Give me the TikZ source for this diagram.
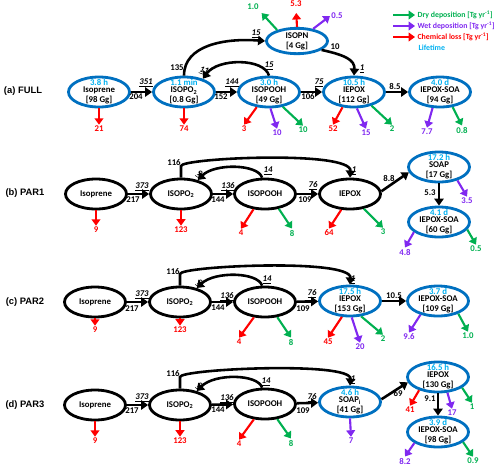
\documentclass[tikz,border=0pt]{standalone}
\usepackage{fontspec}
\setmainfont{Carlito}
\newfontfamily\panelfont{Liberation Sans}
\usetikzlibrary{arrows.meta,shapes.geometric}
\definecolor{eblue}{RGB}{0,112,192}
\definecolor{lblue}{RGB}{0,176,240}
\definecolor{dgreen}{RGB}{0,176,80}
\definecolor{wpurple}{RGB}{128,40,240}
\definecolor{cred}{RGB}{255,0,0}
\newcommand{\lifet}[1]{\textcolor{lblue}{#1}\\[-2.5pt]}
\newcommand{\flo}[1]{\underline{\textit{#1}}}

\begin{document}
\begin{tikzpicture}[
  x=0.03cm,y=-0.03cm,
  >={Triangle[length=6pt,width=8pt]},
  every node/.style={font=\fontsize{7.5}{8.5}\selectfont\bfseries},
  s/.style={ellipse,draw,line width=2.4pt,minimum width=1.83cm,minimum height=0.9cm,inner xsep=0pt,inner ysep=-4pt,align=center},
  sb/.style={s,draw=eblue},
  arc/.style={->,line width=2.2pt},
  dep/.style={-{Triangle[length=5.5pt,width=7.5pt]},line width=1.8pt},
  num/.style={inner sep=1pt},
  lab/.style={font=\panelfont\fontsize{8}{9}\selectfont\bfseries},
  lg/.style={anchor=west,inner sep=2pt,font=\fontsize{6.7}{8}\selectfont\bfseries}
]
\useasboundingbox (0,0) rectangle (500,468);

% legend
\coordinate (lg1) at (393,15);
\coordinate (lg2) at (393,26);
\coordinate (lg3) at (393,37);
\node[lg,dgreen] (lgdry) at (415,15) {Dry deposition [Tg yr\textsuperscript{-1}]};
\node[lg,wpurple] (lgwet) at (415,26) {Wet deposition [Tg yr\textsuperscript{-1}]};
\node[lg,cred] (lgchem) at (415,37) {Chemical loss [Tg yr\textsuperscript{-1}]};
\node[lg,lblue] (lglife) at (416,48) {Lifetime};
\draw[dep,dgreen] (lg1) -- (lgdry.west);
\draw[dep,wpurple] (lg2) -- (lgwet.west);
\draw[dep,cred] (lg3) -- (lgchem.west);

% (a) FULL
\node[lab] (pa) at (23,91) {(a) FULL};
\node[sb] (isoa) at (99,92) {\lifet{3.8 h}Isoprene\\{}[98 Gg]};
\node[sb] (po2a) at (184,92) {\lifet{1.1 min}ISOPO\textsubscript{2}\\{}[0.8 Gg]};
\node[sb] (pooha) at (269,92) {\lifet{3.0 h}ISOPOOH\\{}[49 Gg]};
\node[sb] (iepa) at (354,92) {\lifet{10.5 h}IEPOX\\{}[112 Gg]};
\node[sb] (soaa) at (440,92) {\lifet{4.0 d}IEPOX-SOA\\{}[94 Gg]};
\node[sb,minimum height=0.76cm] (isopn) at (297,41) {ISOPN\\{}[4 Gg]};
\draw[arc] (isoa) -- (po2a);
\draw[arc] (po2a) -- (pooha);
\draw[arc] (pooha) -- (iepa);
\draw[arc] (iepa) -- (soaa);
\draw[arc] (po2a.north) .. controls (184,45) and (225,38) .. (isopn.west);
\draw[arc] (pooha.north) .. controls (264,58) and (218,58) .. (po2a.35);
\draw[arc] (isopn.-20) .. controls (345,55) and (355,60) .. (iepa.north);
\node[num] (fa1) at (146,83) {\flo{351}};
\node[num] (fa2) at (136,97) {204};
\node[num] (fa3) at (232,83) {\flo{144}};
\node[num] (fa4) at (221,97) {152};
\node[num] (fa5) at (319,83) {\flo{75}};
\node[num] (fa6) at (308,97) {106};
\node[num] (fa7) at (395,86) {8.5};
\node[num] (fa8) at (177,68) {135};
\node[num] (fa9) at (256,34) {\flo{15}};
\node[num] (fa10) at (269,66) {\flo{15}};
\node[num,rotate=-20] (fa11) at (204,71) {\flo{11}};
\node[num] (fa12) at (335,47) {10};
\node[num] (fa13) at (362,69) {\flo{1}};
% losses (a)
\node[num,cred] (da1) at (99,129) {21};
\node[num,cred] (da2) at (184,129) {74};
\node[num,cred] (da3) at (244,129) {3};
\node[num,wpurple] (da4) at (277,133) {10};
\node[num,dgreen] (da5) at (303,130) {10};
\node[num,cred] (da6) at (333,129) {52};
\node[num,wpurple] (da7) at (366,133) {15};
\node[num,dgreen] (da8) at (392,129) {2};
\node[num,wpurple] (da9) at (427,132) {7.7};
\node[num,dgreen] (da10) at (462,130) {0.8};
\node[num,dgreen] (da11) at (253,7) {1.0};
\node[num,cred] (da12) at (296,4) {5.3};
\node[num,wpurple] (da13) at (337,16) {0.5};
\draw[dep,cred] (isoa.-90) -- (da1.north);
\draw[dep,cred] (po2a.-90) -- (da2.north);
\draw[dep,cred] (pooha.-129) -- (da3.north);
\draw[dep,wpurple] (pooha.-85) -- (da4.north);
\draw[dep,dgreen] (pooha.-47) -- (da5.north);
\draw[dep,cred] (iepa.-127) -- (da6.north);
\draw[dep,wpurple] (iepa.-80) -- (da7.north);
\draw[dep,dgreen] (iepa.-38) -- (da8.north);
\draw[dep,wpurple] (soaa.-115) -- (da9.north);
\draw[dep,dgreen] (soaa.-50) -- (da10.north);
\draw[dep,dgreen,shorten >=2pt] (isopn.151) -- (da11.south east);
\draw[dep,cred,shorten >=4pt] (isopn.90) -- (da12.south);
\draw[dep,wpurple] (isopn.37) -- (da13.west);

% (b) PAR1
\node[lab] (pb) at (25,193) {(b) PAR1};
\node[s] (isob) at (96,194) {Isoprene};
\node[s] (po2b) at (181,194) {ISOPO\textsubscript{2}};
\node[s] (poohb) at (265,194) {ISOPOOH};
\node[s] (iepb) at (350,194) {IEPOX};
\node[sb] (soapb) at (439,167) {\lifet{17.2 h}SOAP\\{}[17 Gg]};
\node[sb] (soab) at (439,222) {\lifet{4.1 d}IEPOX-SOA\\{}[60 Gg]};
\draw[arc] (isob) -- (po2b);
\draw[arc] (po2b) -- (poohb);
\draw[arc] (poohb) -- (iepb);
\draw[arc] (iepb.5) -- (soapb.-170);
\draw[arc] (soapb) -- (soab);
\draw[arc] (po2b.north) -- (181,166) .. controls (181,158) and (352,150) .. (iepb.north);
\draw[arc] (poohb.100) .. controls (258,164) and (215,163) .. (po2b.40);
\node[num] (fb1) at (142,187) {\flo{373}};
\node[num] (fb2) at (133,200) {217};
\node[num] (fb3) at (228,187) {\flo{136}};
\node[num] (fb4) at (218,200) {144};
\node[num] (fb5) at (313,186) {\flo{76}};
\node[num] (fb6) at (305,200) {109};
\node[num] (fb7) at (389,178) {8.8};
\node[num] (fb8) at (430,193) {5.3};
\node[num] (fb9) at (174,163) {116};
\node[num,rotate=-35] (fb10) at (199,174) {\flo{9}};
\node[num] (fb11) at (268,171) {\flo{14}};
\node[num] (fb12) at (354,171) {\flo{1}};
% losses (b)
\node[num,cred] (db1) at (96,230) {9};
\node[num,cred] (db2) at (181,230) {123};
\node[num,cred] (db3) at (241,233) {4};
\node[num,dgreen] (db4) at (292,233) {8};
\node[num,cred] (db5) at (329,233) {64};
\node[num,dgreen] (db6) at (383,232) {3};
\node[num,wpurple] (db7) at (467,201) {3.5};
\node[num,wpurple] (db8) at (405,252) {4.8};
\node[num,dgreen] (db9) at (476,249) {0.5};
\draw[dep,cred] (isob.-90) -- (db1.north);
\draw[dep,cred] (po2b.-90) -- (db2.north);
\draw[dep,cred] (poohb.-127) -- (db3.north);
\draw[dep,dgreen] (poohb.-47) -- (db4.north);
\draw[dep,cred] (iepb.-119) -- (db5.north);
\draw[dep,dgreen] (iepb.-47) -- (db6.north);
\draw[dep,wpurple] (soapb.-36) -- (db7.north);
\draw[dep,wpurple] (soab.-158) -- (db8.north);
\draw[dep,dgreen] (soab.-15) -- (db9.north);

% (c) PAR2
\node[lab] (pc) at (25,302) {(c) PAR2};
\node[s] (isoc) at (95,302) {Isoprene};
\node[s] (po2c) at (180,302) {ISOPO\textsubscript{2}};
\node[s] (poohc) at (265,302) {ISOPOOH};
\node[sb] (iepc) at (350,301) {\lifet{17.5 h}IEPOX\\{}[153 Gg]};
\node[sb] (soac) at (438,301) {\lifet{3.7 d}IEPOX-SOA\\{}[109 Gg]};
\draw[arc] (isoc) -- (po2c);
\draw[arc] (po2c) -- (poohc);
\draw[arc] (poohc) -- (iepc);
\draw[arc] (iepc) -- (soac);
\draw[arc] (po2c.north) -- (180,274) .. controls (180,266) and (352,258) .. (iepc.north);
\draw[arc] (poohc.100) .. controls (258,272) and (215,271) .. (po2c.40);
\node[num] (fc1) at (142,295) {\flo{373}};
\node[num] (fc2) at (132,309) {217};
\node[num] (fc3) at (227,297) {\flo{136}};
\node[num] (fc4) at (218,308) {144};
\node[num] (fc5) at (312,294) {\flo{76}};
\node[num] (fc6) at (303,309) {109};
\node[num] (fc7) at (394,296) {10.5};
\node[num] (fc8) at (173,272) {116};
\node[num,rotate=-35] (fc9) at (199,283) {\flo{9}};
\node[num] (fc10) at (267,280) {\flo{14}};
\node[num] (fc11) at (353,280) {\flo{1}};
% losses (c)
\node[num,cred] (dc1) at (95,330) {9};
\node[num,cred] (dc2) at (180,330) {123};
\node[num,cred] (dc3) at (239,342) {4};
\node[num,dgreen] (dc4) at (291,342) {8};
\node[num,cred] (dc5) at (328,342) {45};
\node[num,wpurple] (dc6) at (360,347) {20};
\node[num,dgreen] (dc7) at (383,339) {2};
\node[num,wpurple] (dc8) at (409,337) {9.6};
\node[num,dgreen] (dc9) at (468,336) {1.0};
\draw[dep,cred] (isoc.-90) -- (dc1.north);
\draw[dep,cred] (po2c.-90) -- (dc2.north);
\draw[dep,cred] (poohc.-126) -- (dc3.north);
\draw[dep,dgreen] (poohc.-51) -- (dc4.north);
\draw[dep,cred] (iepc.-117) -- (dc5.north);
\draw[dep,wpurple] (iepc.-84) -- (dc6.north);
\draw[dep,dgreen] (iepc.-54) -- (dc7.north);
\draw[dep,wpurple] (soac.-142) -- (dc8.north);
\draw[dep,dgreen] (soac.-32) -- (dc9.north);

% (d) PAR3
\node[lab] (pd) at (25,405) {(d) PAR3};
\node[s] (isod) at (95,405) {Isoprene};
\node[s] (po2d) at (180,405) {ISOPO\textsubscript{2}};
\node[s] (poohd) at (265,404) {ISOPOOH};
\node[sb] (soapi) at (350,402) {\lifet{4.6 h}SOAP\textsubscript{i}\\{}[41 Gg]};
\node[sb] (iepd) at (438,377) {\lifet{16.5 h}IEPOX\\{}[130 Gg]};
\node[sb] (soad) at (438,432) {\lifet{3.9 d}IEPOX-SOA\\{}[98 Gg]};
\draw[arc] (isod) -- (po2d);
\draw[arc] (po2d) -- (poohd);
\draw[arc] (poohd) -- (soapi);
\draw[arc] (soapi.5) -- (iepd.-170);
\draw[arc] (iepd) -- (soad);
\draw[arc] (po2d.north) -- (180,377) .. controls (180,369) and (352,361) .. (soapi.north);
\draw[arc] (poohd.100) .. controls (258,374) and (215,373) .. (po2d.40);
\node[num] (fd1) at (142,398) {\flo{373}};
\node[num] (fd2) at (132,411) {217};
\node[num] (fd3) at (227,399) {\flo{136}};
\node[num] (fd4) at (218,410) {144};
\node[num] (fd5) at (312,398) {\flo{76}};
\node[num] (fd6) at (303,411) {109};
\node[num] (fd7) at (398,394) {69};
\node[num] (fd8) at (430,399) {9.1};
\node[num] (fd9) at (173,374) {116};
\node[num,rotate=-35] (fd10) at (199,386) {\flo{9}};
\node[num] (fd11) at (266,382) {\flo{14}};
\node[num] (fd12) at (353,380) {\flo{1}};
% losses (d)
\node[num,cred] (dd1) at (95,441) {9};
\node[num,cred] (dd2) at (180,441) {123};
\node[num,cred] (dd3) at (239,444) {4};
\node[num,dgreen] (dd4) at (291,443) {8};
\node[num,wpurple] (dd5) at (351,441) {7};
\node[num,cred] (dd6) at (410,410) {41};
\node[num,wpurple] (dd7) at (452,413) {17};
\node[num,dgreen] (dd8) at (472,407) {1};
\node[num,wpurple] (dd9) at (405,461) {8.2};
\node[num,dgreen] (dd10) at (473,461) {0.9};
\draw[dep,cred] (isod.-90) -- (dd1.north);
\draw[dep,cred] (po2d.-90) -- (dd2.north);
\draw[dep,cred] (poohd.-126) -- (dd3.north);
\draw[dep,dgreen] (poohd.-51) -- (dd4.north);
\draw[dep,wpurple] (soapi.-90) -- (dd5.north);
\draw[dep,cred] (iepd.-145) -- (dd6.north);
\draw[dep,wpurple] (iepd.-59) -- (dd7.north);
\draw[dep,dgreen] (iepd.-24) -- (dd8.north);
\draw[dep,wpurple] (soad.-155) -- (dd9.north);
\draw[dep,dgreen] (soad.-22) -- (dd10.north);
\end{tikzpicture}
\end{document}
